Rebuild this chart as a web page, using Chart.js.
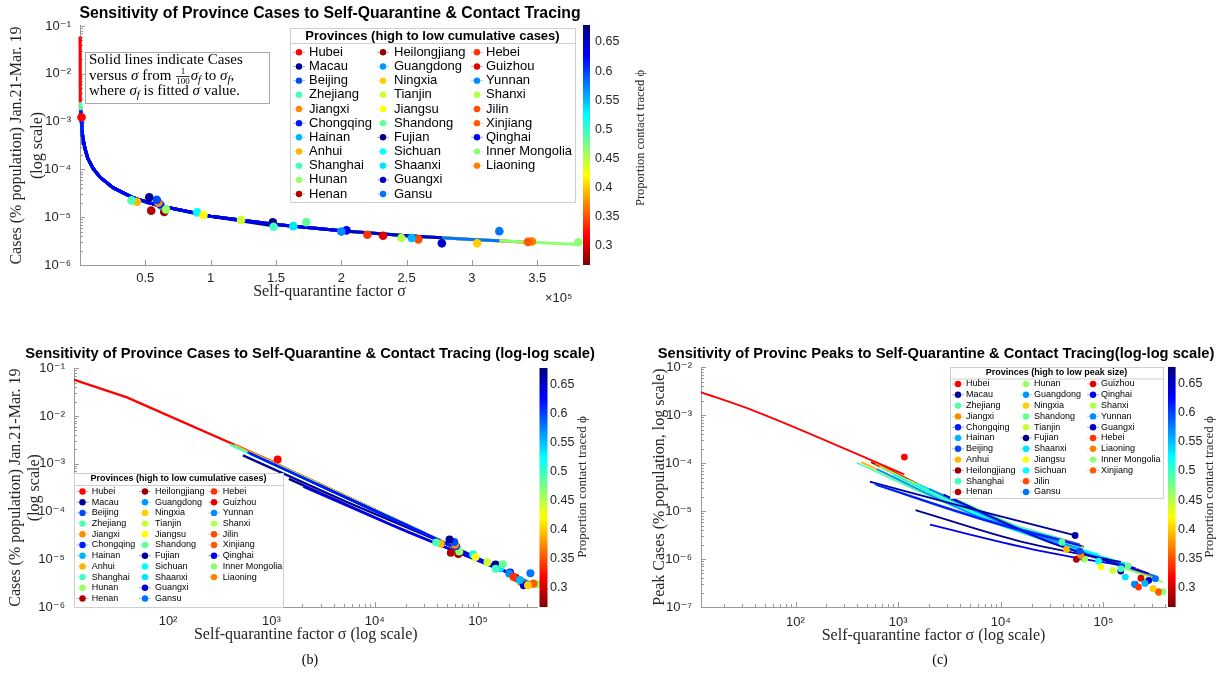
<!DOCTYPE html>
<html>
<head>
<meta charset="utf-8">
<title>Sensitivity of province cases to self-quarantine and contact tracing</title>
<script src="https://cdn.jsdelivr.net/npm/chart.js@4.4.1/dist/chart.umd.min.js"></script>
<style>
  html, body { margin: 0; padding: 0; background: #ffffff; }
  body { position: relative; width: 1226px; height: 680px; overflow: hidden; }
  canvas { position: absolute; }
  #chart-a { left: 0; top: 0; }
  #chart-b { left: 0; top: 340px; }
  #chart-c { left: 646px; top: 340px; }
</style>
</head>
<body>
<canvas id="chart-a" width="660" height="310"></canvas>
<canvas id="chart-b" width="620" height="340"></canvas>
<canvas id="chart-c" width="580" height="340"></canvas>
<script>
// provinces in the legend order of the cumulative-cases panels (high to low cumulative cases)
const provinces = ['Hubei', 'Macau', 'Beijing', 'Zhejiang', 'Jiangxi', 'Chongqing', 'Hainan', 'Anhui', 'Shanghai', 'Hunan', 'Henan',
  'Heilongjiang', 'Guangdong', 'Ningxia', 'Tianjin', 'Jiangsu', 'Shandong', 'Fujian', 'Sichuan', 'Shaanxi', 'Guangxi', 'Gansu',
  'Hebei', 'Guizhou', 'Yunnan', 'Shanxi', 'Jilin', 'Xinjiang', 'Qinghai', 'Inner Mongolia', 'Liaoning'];

// legend order of the peak panel (high to low peak size)
const provincesByPeak = ['Hubei', 'Macau', 'Zhejiang', 'Jiangxi', 'Chongqing', 'Hainan', 'Beijing', 'Anhui', 'Heilongjiang', 'Shanghai', 'Henan',
  'Hunan', 'Guangdong', 'Ningxia', 'Shandong', 'Tianjin', 'Fujian', 'Shaanxi', 'Jiangsu', 'Sichuan', 'Jilin', 'Gansu',
  'Guizhou', 'Qinghai', 'Shanxi', 'Yunnan', 'Guangxi', 'Hebei', 'Liaoning', 'Inner Mongolia', 'Xinjiang'];

// proportion contact traced (phi)
const phi = [0.319, 0.667, 0.596, 0.493, 0.375, 0.616, 0.554, 0.392, 0.498, 0.462, 0.288,
  0.278, 0.565, 0.401, 0.442, 0.421, 0.483, 0.672, 0.524, 0.534, 0.647, 0.580,
  0.339, 0.308, 0.570, 0.452, 0.349, 0.355, 0.631, 0.467, 0.370];

// fitted self-quarantine factor sigma_f (x of every dot)
const sigmaFit = [1150, 53000, 58800, 39400, 60000, 61000, 254000, 43600, 148200, 65800, 54500,
  64500, 62000, 304000, 123300, 94500, 173300, 147600, 89700, 163300, 277000, 321000,
  220000, 232000, 200000, 246000, 259000, 343000, 204000, 381500, 346000];

// cumulative cases Jan.21-Mar.19 (fraction of population), dots of panels a and b
const casesObs = [1.23e-3, 2.6e-5, 2.3e-5, 2.25e-5, 2.0e-5, 1.89e-5, 3.67e-6, 2.1e-5, 6.3e-6, 1.46e-5, 1.37e-5,
  1.29e-5, 1.75e-5, 2.84e-6, 8.7e-6, 1.11e-5, 7.9e-6, 7.8e-6, 1.26e-5, 6.5e-6, 2.84e-6, 5.1e-6,
  4.3e-6, 4.1e-6, 5.0e-6, 3.67e-6, 3.44e-6, 3.05e-6, 5.3e-6, 3.0e-6, 3.1e-6];

// peak cases, dots of panel c
const peakObs = [1.34e-4, 3.1e-6, 1.46e-6, 2.25e-6, 1.2e-6, 1.3e-6, 3.1e-7, 1.58e-6, 6.3e-7, 1.0e-6, 9.9e-7,
  1.05e-6, 1.1e-6, 2.4e-7, 5.8e-7, 6.9e-7, 7.2e-7, 5.6e-7, 9.0e-7, 4.2e-7, 3.6e-7, 3.9e-7,
  2.6e-7, 4.0e-7, 3.0e-7, 3.5e-7, 3.3e-7, 2.1e-7, 2.95e-7, 2.1e-7, 2.0e-7];

// solid lines run from sigma_f/100 to sigma_f
const lineFromSigma = [11.5, 530, 588, 394, 600, 610, 2540, 436, 1482, 658, 545,
  645, 620, 3040, 1233, 945, 1733, 1476, 897, 1633, 2770, 3210,
  2200, 2320, 2000, 2460, 2590, 3430, 2040, 3815, 3460];
const lineMidSigma = [40, 5300, 5880, 3940, 6000, 6100, 25400, 4360, 14820, 6580, 5450,
  6450, 6200, 30400, 12330, 9450, 17330, 14760, 8970, 16330, 27700, 32100,
  22000, 23200, 20000, 24600, 25900, 34300, 20400, 38150, 34600];

// cases along each line (panel b)
const lineFromCases = [6.0e-2, 1.5e-3, 1.75e-3, 2.55e-3, 1.85e-3, 1.68e-3, 4.05e-4, 2.45e-3, 6.9e-4, 1.62e-3, 2.0e-3,
  1.72e-3, 1.65e-3, 3.55e-4, 8.6e-4, 1.1e-3, 5.9e-4, 4.8e-4, 1.15e-3, 6.3e-4, 3.75e-4, 3.2e-4,
  4.9e-4, 4.6e-4, 5.15e-4, 4.3e-4, 4.15e-4, 3.1e-4, 3.3e-4, 2.8e-4, 3.08e-4];
const lineMidCases = [2.46e-2, 1.6e-4, 1.75e-4, 2.65e-4, 1.85e-4, 1.68e-4, 4.15e-5, 2.5e-4, 7.1e-5, 1.62e-4, 2.0e-4,
  1.72e-4, 1.66e-4, 3.5e-5, 8.7e-5, 1.12e-4, 6.1e-5, 5.2e-5, 1.17e-4, 6.5e-5, 3.8e-5, 3.25e-5,
  4.9e-5, 4.65e-5, 5.3e-5, 4.35e-5, 4.2e-5, 3.1e-5, 3.8e-5, 2.8e-5, 3.05e-5];
const lineToCases = [1.0e-3, 1.95e-5, 1.78e-5, 2.65e-5, 1.75e-5, 1.72e-5, 4.05e-6, 2.4e-5, 7.0e-6, 1.6e-5, 1.9e-5,
  1.63e-5, 1.7e-5, 3.35e-6, 8.5e-6, 1.1e-5, 6.0e-6, 6.6e-6, 1.17e-5, 6.4e-6, 3.7e-6, 3.2e-6,
  4.7e-6, 4.45e-6, 5.2e-6, 4.15e-6, 4.0e-6, 3.0e-6, 5.0e-6, 2.7e-6, 2.95e-6];

// the common cases curve that the lines follow in panel a
const bandSigma = [12, 40, 100, 200, 400, 600, 1000, 1500, 2500, 4000, 6000, 10000, 15000, 25000,
  40000, 60000, 100000, 150000, 200000, 250000, 300000, 350000, 380000];
const bandCases = [6.0e-2, 2.46e-2, 1.0e-2, 5.0e-3, 2.5e-3, 1.7e-3, 1.0e-3, 6.8e-4, 4.1e-4, 2.6e-4, 1.7e-4, 1.05e-4, 7.0e-5, 4.2e-5,
  2.6e-5, 1.75e-5, 1.05e-5, 7.0e-6, 5.2e-6, 4.1e-6, 3.4e-6, 2.95e-6, 2.7e-6];

// peak curves (panel c), at lineFromSigma, lineMidSigma and sigmaFit
const peakFromCases = [3.1e-3, 4.1e-5, 3.7e-5, 1.02e-4, 9.8e-5, 3.5e-5, 2.3e-5, 1.05e-4, 3.8e-5, 8.5e-5, 1.05e-4,
  9.5e-5, 7.5e-5, 2.0e-5, 4.5e-5, 5.5e-5, 3.3e-5, 1.05e-5, 5.8e-5, 3.5e-5, 2.2e-5, 1.9e-5,
  2.6e-5, 2.5e-5, 2.9e-5, 2.4e-5, 2.3e-5, 1.8e-5, 5.2e-6, 1.7e-5, 1.8e-5];
const peakMidCases = [1.22e-3, 1.1e-5, 7.5e-6, 1.15e-5, 9.0e-6, 7.0e-6, 2.6e-6, 1.1e-5, 3.9e-6, 8.0e-6, 9.5e-6,
  8.5e-6, 7.5e-6, 2.3e-6, 4.5e-6, 5.3e-6, 3.4e-6, 2.4e-6, 5.5e-6, 3.6e-6, 2.4e-6, 2.2e-6,
  2.9e-6, 2.8e-6, 3.1e-6, 2.7e-6, 2.55e-6, 2.1e-6, 1.6e-6, 2.0e-6, 2.1e-6];
const peakToCases = [5.8e-5, 3.1e-6, 2.0e-6, 2.6e-6, 2.0e-6, 1.85e-6, 5.3e-7, 2.4e-6, 8.5e-7, 1.7e-6, 2.1e-6,
  1.8e-6, 1.6e-6, 4.6e-7, 9.5e-7, 1.15e-6, 7.5e-7, 8.7e-7, 1.25e-6, 8.0e-7, 5.0e-7, 4.4e-7,
  6.0e-7, 5.8e-7, 6.5e-7, 5.5e-7, 5.2e-7, 4.0e-7, 6.5e-7, 3.3e-7, 3.9e-7];

// tick values
const phiRange = [0.2674, 0.6775];
const phiTicks = [0.3, 0.35, 0.4, 0.45, 0.5, 0.55, 0.6, 0.65];
const sigmaTicksA = [50000, 100000, 150000, 200000, 250000, 300000, 350000];

const sans = "'Liberation Sans', Arial, Helvetica, 'DejaVu Sans', sans-serif";
const serif = "'Liberation Serif', 'Times New Roman', 'DejaVu Serif', serif";
const ink = '#262626';
const axisGray = '#9a9a9a';
const SUP = {'0': '⁰', '1': '¹', '2': '²', '3': '³', '4': '⁴', '5': '⁵', '6': '⁶', '7': '⁷', '8': '⁸', '9': '⁹', '-': '⁻'};

Chart.defaults.font.family = sans;

//jet colour of a phi value, dark blue at the top of the bar, dark red at the bottom
function jetColor(p) {
  let t = (phiRange[1] - p) / (phiRange[1] - phiRange[0]);
  t = Math.min(1, Math.max(0, t));
  const c = v => Math.round(255 * Math.min(1, Math.max(0, v)));
  return 'rgb(' + c(1.5 - Math.abs(4 * t - 3)) + ',' + c(1.5 - Math.abs(4 * t - 2)) + ',' + c(1.5 - Math.abs(4 * t - 1)) + ')';
}

//label only the powers of ten
function powLabel(v) {
  const e = Math.log10(v);
  const r = Math.round(e);
  if (Math.abs(e - r) > 1e-6) return '';
  return '10' + String(r).split('').map(ch => SUP[ch]).join('');
}

//one dataset per province dot
function dotSets(yValues, radius) {
  return provinces.map((name, i) => ({
    label: name,
    data: [{x: sigmaFit[i], y: yValues[i]}],
    showLine: false,
    pointRadius: radius,
    pointHoverRadius: radius,
    pointBackgroundColor: jetColor(phi[i]),
    pointBorderWidth: 0,
    clip: false,
    order: -1
  }));
}

//blue curves end up on top, as in the figure
function lineSet(i, pts, width, smooth, clip) {
  return {
    label: provinces[i] + ' curve',
    data: pts,
    showLine: true,
    borderColor: jetColor(phi[i]),
    borderWidth: width,
    pointRadius: 0,
    pointHoverRadius: 0,
    cubicInterpolationMode: smooth ? 'monotone' : 'default',
    clip: clip,
    order: Math.abs(phi[i] - 0.63)
  };
}

//panel a: the line follows the common curve between its two ends
function bandLine(i) {
  let pts = [{x: lineFromSigma[i], y: lineFromCases[i]}];
  bandSigma.forEach((s, k) => {
    if (s > lineFromSigma[i] && s < sigmaFit[i]) pts.push({x: s, y: bandCases[k]});
  });
  pts.push({x: sigmaFit[i], y: lineToCases[i]});
  return pts;
}

function straightLine(i) {
  return [{x: lineFromSigma[i], y: lineFromCases[i]}, {x: lineMidSigma[i], y: lineMidCases[i]}, {x: sigmaFit[i], y: lineToCases[i]}];
}

function peakLine(i) {
  return [{x: lineFromSigma[i], y: peakFromCases[i]}, {x: lineMidSigma[i], y: peakMidCases[i]}, {x: sigmaFit[i], y: peakToCases[i]}];
}

/* plugins */

//small tick marks inside the axes, drawn under the curves
const innerTicks = {
  id: 'innerTicks',
  beforeDatasetsDraw(chart) {
    const {ctx, chartArea} = chart;
    ctx.save();
    ctx.strokeStyle = axisGray;
    ctx.lineWidth = 1;
    ['x', 'y'].forEach(id => {
      const s = chart.scales[id];
      s.ticks.forEach(t => {
        const v = t.value;
        let len = 5;
        if (s.type === 'logarithmic') {
          const m = v / Math.pow(10, Math.floor(Math.log10(v) + 1e-9));
          if (Math.abs(m - Math.round(m)) > 1e-6) return;
          len = Math.round(m) === 1 ? 5 : 3;
        } else if (v <= s.min || v >= s.max) {
          return;
        }
        const p = Math.round(s.getPixelForValue(v)) + 0.5;
        ctx.beginPath();
        if (id === 'x') {
          ctx.moveTo(p, chartArea.bottom);
          ctx.lineTo(p, chartArea.bottom - len);
        } else {
          ctx.moveTo(chartArea.left, p);
          ctx.lineTo(chartArea.left + len, p);
        }
        ctx.stroke();
      });
    });
    ctx.restore();
  }
};

//colorbar next to the plot, using the phi scale
const colorBar = {
  id: 'colorBar',
  afterDraw(chart, args, o) {
    const {ctx, chartArea} = chart;
    const s = chart.scales.phi;
    const x0 = chartArea.right + o.gap;
    ctx.save();
    for (let py = Math.floor(chartArea.top); py < chartArea.bottom; py++) {
      ctx.fillStyle = jetColor(s.getValueForPixel(py + 0.5));
      ctx.fillRect(x0, py, o.width, 1);
    }
    ctx.translate(o.labelX, o.labelY);
    ctx.rotate(-Math.PI / 2);
    ctx.font = o.size + 'px ' + serif;
    ctx.fillStyle = ink;
    ctx.textAlign = 'center';
    ctx.textBaseline = 'middle';
    ctx.fillText(o.text, 0, 0);
    ctx.restore();
  }
};

//boxed legend with a title, filled column by column
const provinceLegend = {
  id: 'provinceLegend',
  afterDraw(chart, args, o) {
    const ctx = chart.ctx;
    ctx.save();
    ctx.fillStyle = '#ffffff';
    ctx.fillRect(o.left, o.top, o.width, o.height);
    ctx.strokeStyle = '#cfcfcf';
    ctx.lineWidth = 1;
    ctx.strokeRect(o.left + 0.5, o.top + 0.5, o.width, o.height);
    ctx.beginPath();
    ctx.moveTo(o.left, o.sepY + 0.5);
    ctx.lineTo(o.left + o.width, o.sepY + 0.5);
    ctx.stroke();

    ctx.fillStyle = '#000000';
    ctx.textBaseline = 'middle';
    ctx.textAlign = 'center';
    ctx.font = 'bold ' + o.size + 'px ' + sans;
    ctx.fillText(o.title, o.left + o.width / 2, o.titleY);

    ctx.textAlign = 'left';
    ctx.font = o.size + 'px ' + sans;
    o.names.forEach((name, k) => {
      const col = Math.floor(k / o.rows);
      const cy = o.rowY + (k % o.rows) * o.rowGap;
      const mx = o.markerX[col];
      const color = jetColor(phi[provinces.indexOf(name)]);
      ctx.globalAlpha = 0.35;
      ctx.strokeStyle = color;
      ctx.beginPath();
      ctx.moveTo(mx - o.stub, cy);
      ctx.lineTo(mx + o.stub, cy);
      ctx.stroke();
      ctx.globalAlpha = 1;
      ctx.fillStyle = color;
      ctx.beginPath();
      ctx.arc(mx, cy, o.r, 0, 2 * Math.PI);
      ctx.fill();
      ctx.fillStyle = '#000000';
      ctx.fillText(name, o.textX[col], cy);
    });
    ctx.restore();
  }
};

//text with italic, subscript and a small stacked fraction
function richText(ctx, x, y, parts, size) {
  ctx.textAlign = 'left';
  parts.forEach(p => {
    if (p.num) {
      ctx.font = Math.round(size * 0.62) + 'px ' + serif;
      const w = Math.max(ctx.measureText(p.num).width, ctx.measureText(p.den).width);
      ctx.textAlign = 'center';
      ctx.fillText(p.num, x + 1 + w / 2, y - size * 0.33);
      ctx.fillText(p.den, x + 1 + w / 2, y + size * 0.33);
      ctx.fillRect(x + 1, y - 0.4, w, 0.8);
      ctx.textAlign = 'left';
      x += w + 2;
      return;
    }
    const fs = p.sub ? size * 0.7 : size;
    ctx.font = (p.i ? 'italic ' : '') + fs + 'px ' + serif;
    ctx.fillText(p.t, x, y + (p.sub ? size * 0.28 : 0));
    x += ctx.measureText(p.t).width;
  });
}

//note box, axis exponent and panel captions
const textMarks = {
  id: 'textMarks',
  afterDraw(chart, args, o) {
    const ctx = chart.ctx;
    ctx.save();
    ctx.textBaseline = 'middle';
    if (o.note) {
      const n = o.note;
      ctx.fillStyle = '#ffffff';
      ctx.fillRect(n.left, n.top, n.width, n.height);
      ctx.strokeStyle = '#a8a8a8';
      ctx.lineWidth = 1;
      ctx.strokeRect(n.left + 0.5, n.top + 0.5, n.width, n.height);
      ctx.fillStyle = '#000000';
      n.lines.forEach((parts, k) => richText(ctx, n.textX, n.lineY[k], parts, n.size));
    }
    if (o.exponent) {
      ctx.font = '13px ' + sans;
      ctx.fillStyle = ink;
      ctx.textAlign = 'left';
      ctx.fillText(o.exponent.text, o.exponent.x, o.exponent.y);
    }
    if (o.caption) {
      ctx.font = '14px ' + serif;
      ctx.fillStyle = '#000000';
      ctx.textAlign = 'center';
      ctx.fillText(o.caption.text, o.caption.x, o.caption.y);
    }
    ctx.restore();
  }
};

/* axis helpers */

function yLogAxis(min, max, title, width, lineHeight, padTop) {
  return {
    type: 'logarithmic', position: 'left', min: min, max: max,
    grid: {display: false, drawTicks: false},
    border: {display: true, color: axisGray},
    ticks: {autoSkip: false, padding: 9, color: ink, font: {family: sans, size: 13}, callback: v => powLabel(v)},
    title: {display: true, text: title, color: ink, font: {family: serif, size: 16, lineHeight: lineHeight}, padding: {top: padTop, bottom: 0}},
    afterFit: s => { s.width = width; }
  };
}

function xLogAxis(min, max, title, tickPad, padBottom) {
  return {
    type: 'logarithmic', min: min, max: max,
    grid: {display: false, drawTicks: false},
    border: {display: true, color: axisGray},
    ticks: {autoSkip: false, maxRotation: 0, padding: tickPad, color: ink, font: {family: sans, size: 13}, callback: v => powLabel(v)},
    title: {display: true, text: title, color: ink, font: {family: serif, size: 16, lineHeight: 1.2}, padding: {top: 0, bottom: padBottom}},
    afterFit: s => { s.height = 45; }
  };
}

function phiAxis(width, pad) {
  return {
    type: 'linear', position: 'right', min: phiRange[0], max: phiRange[1],
    grid: {display: false, drawTicks: false},
    border: {display: false},
    afterBuildTicks: s => { s.ticks = phiTicks.map(v => ({value: v})); },
    ticks: {padding: pad, color: ink, font: {family: sans, size: 12.5}, callback: v => String(Math.round(v * 100) / 100)},
    afterFit: s => { s.width = width; }
  };
}

function titleOpts(text, size, padTop, padBottom) {
  return {display: true, text: text, color: '#000000', font: {family: sans, size: size, weight: 'bold', lineHeight: 1.2}, padding: {top: padTop, bottom: padBottom}};
}

const legendRows = 11;

/* panel a: linear sigma axis */
let chart_a = new Chart(document.getElementById('chart-a'), {
  type: 'scatter',
  data: {
    datasets: dotSets(casesObs, 4.3).concat(provinces.map((p, i) => lineSet(i, bandLine(i), 3, false, false)))
  },
  options: {
    responsive: false,
    animation: false,
    events: [],
    layout: {padding: 0},
    scales: {
      x: {
        type: 'linear', min: 0, max: 382000,
        grid: {display: false, drawTicks: false},
        border: {display: true, color: axisGray},
        afterBuildTicks: s => { s.ticks = sigmaTicksA.map(v => ({value: v})); },
        ticks: {padding: 5.5, maxRotation: 0, color: ink, font: {family: sans, size: 13}, callback: v => String(v / 100000)},
        title: {display: true, text: 'Self-quarantine factor σ', color: ink, font: {family: serif, size: 16, lineHeight: 1.2}, padding: {top: 0, bottom: 8.4}},
        afterFit: s => { s.height = 45; }
      },
      y: yLogAxis(1e-6, 1e-1, ['Cases (% population) Jan.21-Mar. 19', '(log scale)'], 80, 1.3125, 6.5),
      phi: phiAxis(81, 16)
    },
    plugins: {
      legend: {display: false},
      tooltip: {enabled: false},
      title: titleOpts('Sensitivity of Province Cases to Self-Quarantine & Contact Tracing', 15.8, 3.8, 3.2),
      colorBar: {gap: 4, width: 7, labelX: 641, labelY: 138, size: 12.5, text: 'Proportion contact traced ϕ'},
      provinceLegend: {
        left: 290, top: 28, width: 285, height: 174, sepY: 43, titleY: 36.3,
        title: 'Provinces (high to low cumulative cases)', names: provinces, rows: legendRows,
        rowY: 52.3, rowGap: 14.17, markerX: [299, 383, 477], textX: [309, 394, 486], size: 13, r: 3.2, stub: 6
      },
      textMarks: {
        note: {
          left: 85, top: 52, width: 184, height: 51, textX: 89, lineY: [60, 76.5, 91], size: 15,
          lines: [
            [{t: 'Solid lines indicate Cases'}],
            [{t: 'versus '}, {t: 'σ', i: true}, {t: ' from '}, {num: '1', den: '100'}, {t: 'σ', i: true}, {t: 'f', i: true, sub: true},
             {t: ' to '}, {t: 'σ', i: true}, {t: 'f', i: true, sub: true}, {t: ','}],
            [{t: 'where '}, {t: 'σ', i: true}, {t: 'f', i: true, sub: true}, {t: ' is fitted '}, {t: 'σ', i: true}, {t: ' value.'}]
          ]
        },
        exponent: {text: '×10⁵', x: 545, y: 298}
      }
    }
  },
  plugins: [innerTicks, colorBar, provinceLegend, textMarks]
});

/* panel b: log-log cases */
let chart_b = new Chart(document.getElementById('chart-b'), {
  type: 'scatter',
  data: {
    datasets: dotSets(casesObs, 4).concat(provinces.map((p, i) => lineSet(i, straightLine(i), 2.4, false, undefined)))
  },
  options: {
    responsive: false,
    animation: false,
    events: [],
    layout: {padding: {left: 0, right: 0, top: 0, bottom: 28}},
    scales: {
      x: xLogAxis(12.3, 376000, 'Self-quarantine factor σ (log scale)', 6.5, 7.4),
      y: yLogAxis(1e-6, 1e-1, ['Cases (% population) Jan.21-Mar. 19', '(log scale)'], 74, 1.1875, 6.3),
      phi: phiAxis(82.5, 12.5)
    },
    plugins: {
      legend: {display: false},
      tooltip: {enabled: false},
      title: titleOpts('Sensitivity of Province Cases to Self-Quarantine & Contact Tracing (log-log scale)', 14.7, 5.3, 5.3),
      colorBar: {gap: 2, width: 8, labelX: 583, labelY: 147, size: 13, text: 'Proportion contact traced ϕ'},
      provinceLegend: {
        left: 74, top: 133, width: 209, height: 134, sepY: 145, titleY: 139,
        title: 'Provinces (high to low cumulative cases)', names: provinces, rows: legendRows,
        rowY: 151.5, rowGap: 10.7, markerX: [82.5, 145, 214], textX: [91.7, 155, 222.7], size: 9, r: 3.2, stub: 6
      },
      textMarks: {caption: {text: '(b)', x: 310, y: 320}}
    }
  },
  plugins: [innerTicks, colorBar, provinceLegend, textMarks]
});

/* panel c: log-log peaks */
let chart_c = new Chart(document.getElementById('chart-c'), {
  type: 'scatter',
  data: {
    datasets: dotSets(peakObs, 3.4).concat(provinces.map((p, i) => lineSet(i, peakLine(i), 1.8, true, undefined)))
  },
  options: {
    responsive: false,
    animation: false,
    events: [],
    layout: {padding: {left: 0, right: 0, top: 0, bottom: 28}},
    scales: {
      x: xLogAxis(12, 407000, 'Self-quarantine factor σ (log scale)', 8, 6.4),
      y: yLogAxis(1e-7, 1e-2, 'Peak Cases (% population, log scale)', 55, 1.2, 4.4),
      phi: phiAxis(60, 12)
    },
    plugins: {
      legend: {display: false},
      tooltip: {enabled: false},
      title: titleOpts('Sensitivity of Provinc Peaks to Self-Quarantine & Contact Tracing(log-log scale)', 14.7, 5, 4.6),
      colorBar: {gap: 2, width: 7.6, labelX: 564, labelY: 147, size: 13, text: 'Proportion contact traced ϕ'},
      provinceLegend: {
        left: 304, top: 27, width: 213, height: 131, sepY: 38.5, titleY: 33,
        title: 'Provinces (high to low peak size)', names: provincesByPeak, rows: legendRows,
        rowY: 44, rowGap: 10.8, markerX: [312, 380, 447], textX: [320, 388, 455], size: 9, r: 3.2, stub: 6
      },
      textMarks: {caption: {text: '(c)', x: 294, y: 320}}
    }
  },
  plugins: [innerTicks, colorBar, provinceLegend, textMarks]
});
</script>
</body>
</html>
